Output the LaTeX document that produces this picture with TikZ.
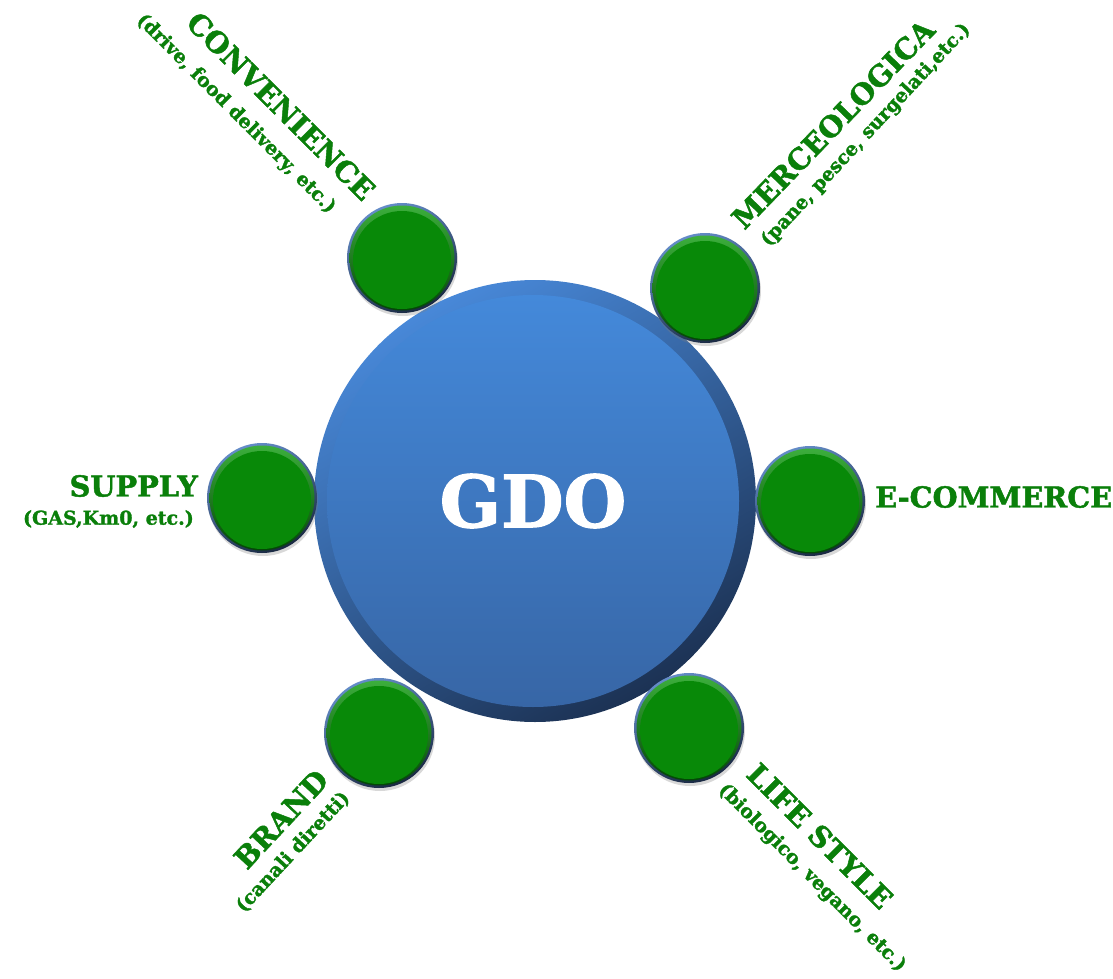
\documentclass[tikz,border=0pt]{standalone}
\usepackage{fontspec}
\setmainfont{DejaVu Serif}[BoldFeatures = {FakeBold = 1.6}]
\usepackage{tikz}
\usetikzlibrary{shadows}
\usetikzlibrary{positioning}
\definecolor{mgreen}{RGB}{8, 137, 8}
\definecolor{mglow}{RGB}{60, 175, 60}
\definecolor{mgdark}{RGB}{3, 70, 5}
\definecolor{mtext}{RGB}{10, 127, 10}
\definecolor{mblue}{RGB}{68, 137, 218}
\definecolor{mbluedark}{RGB}{55, 102, 166}
\definecolor{mrimlight}{RGB}{72, 136, 216}
\definecolor{mrimdark}{RGB}{28, 50, 84}
\definecolor{medge}{RGB}{100, 140, 200}
\definecolor{medgedark}{RGB}{25, 40, 65}
\tikzset{hub/.style = {circle, inner sep = 0, minimum size = 412pt,
                       top color = mblue, bottom color = mbluedark,
                       text = white, font = \fontsize{72}{80}\selectfont\bfseries}}
\tikzset{spotrim/.style = {top color = medge, bottom color = medgedark, shading angle = 25,
                           drop shadow = {opacity = 0.3, shadow xshift = 1pt, shadow yshift = -3pt}}}
\tikzset{spot/.style = {circle, inner sep = 0, minimum size = 105pt,
                        top color = mglow, bottom color = mgdark,
                        path picture = {\fill [mgreen] ([yshift=-2pt]path picture bounding box.center) circle (49pt);}}}
\tikzset{lbl/.style = {text = mtext, inner sep = 0, font = \fontsize{28.8}{30}\selectfont\bfseries}}
\tikzset{sublbl/.style = {text = mtext, inner sep = 0, font = \fontsize{19}{20}\selectfont\bfseries}}

\begin{document}
\begin{tikzpicture}[x = 1pt, y = -1pt]
  \useasboundingbox [fill = white] (0, 0) rectangle (1113, 979);

  % central disc with its darker rim
  \shade [top color = mrimlight, bottom color = mrimdark, shading angle = 30] (535, 501) circle (221pt);
  \node [hub] (gdo) at (533, 501) {GDO};

  \foreach \n/\x/\y in {conv/402/258, merc/705/288, supp/262/498,
                        ecom/810/501, brand/379/733, life/689/728} {
    \shade [spotrim] (\x, \y) circle (55pt);
    \node [spot] (\n) at (\x, \y) {};
  }

  \node [lbl, rotate = -45] (convT) at (281, 106) {CONVENIENCE};
  \node [sublbl, rotate = -45] (convS) at (236, 114) {(drive, food delivery, etc.)};

  \node [lbl, rotate = 46] (mercT) at (833, 124) {MERCEOLOGICA};
  \node [sublbl, rotate = 47] (mercS) at (866, 135) {(pane, pesce, surgelati,etc.)};

  \node [lbl, anchor = east] (suppT) at (198, 486) {SUPPLY};
  \node [sublbl, anchor = east] (suppS) at (194, 519) {(GAS,Km0, etc.)};

  \node [lbl, anchor = west] (ecomT) at (875, 497) {E-COMMERCE};

  \node [lbl, rotate = 47] (brandT) at (281, 819) {BRAND};
  \node [sublbl, rotate = 47] (brandS) at (293, 852) {(canali diretti)};

  \node [lbl, rotate = -45] (lifeT) at (820, 836) {LIFE STYLE};
  \node [sublbl, rotate = -45] (lifeS) at (812, 878) {(biologico, vegano, etc.)};
\end{tikzpicture}
\end{document}
